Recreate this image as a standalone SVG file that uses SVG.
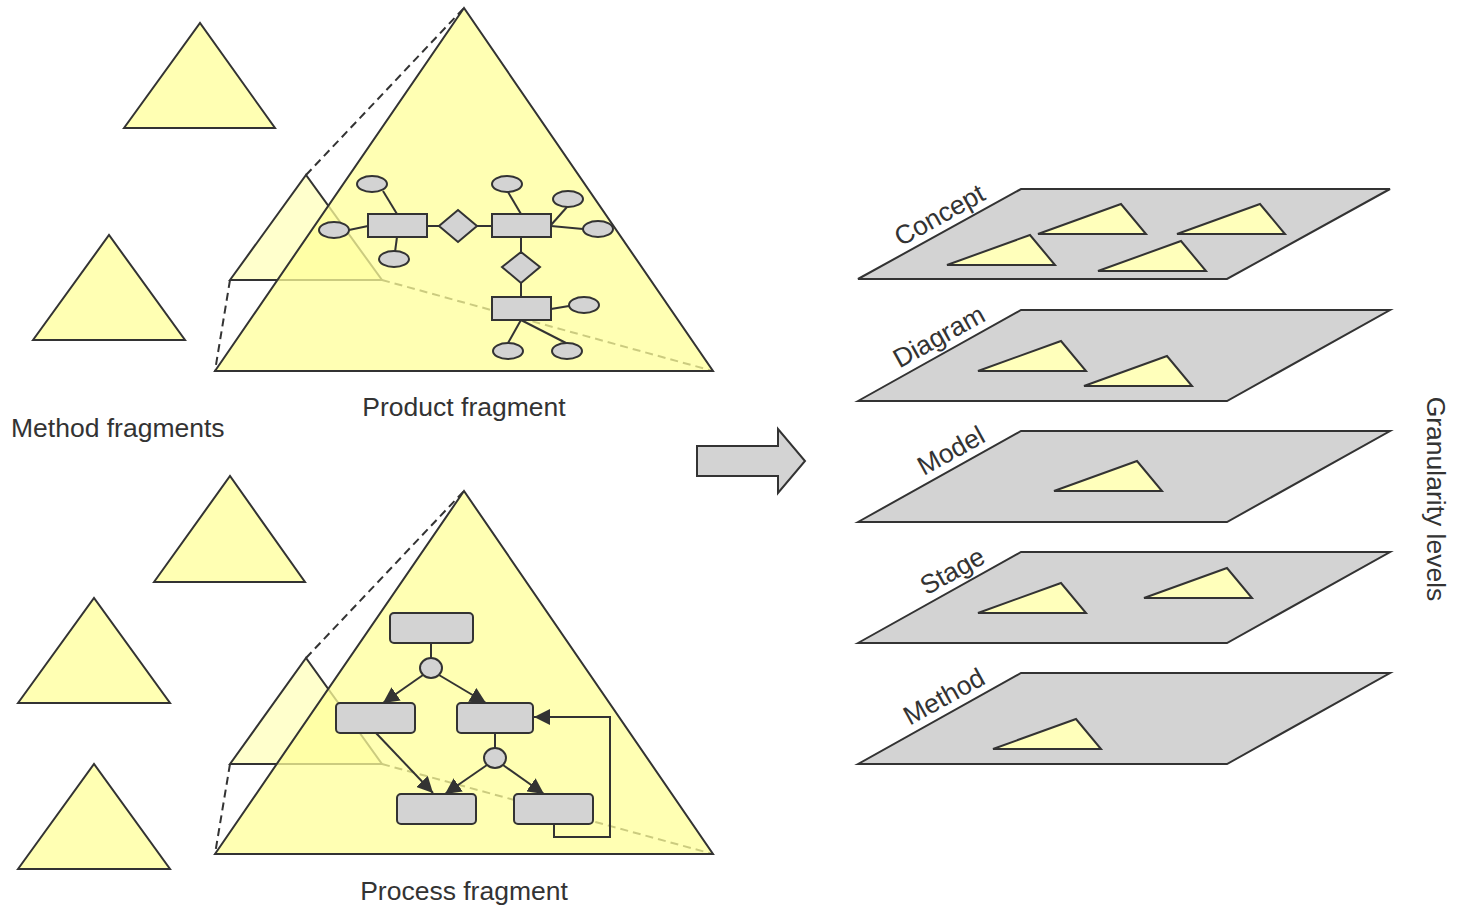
<svg xmlns="http://www.w3.org/2000/svg" xmlns:xlink="http://www.w3.org/1999/xlink" width="1458" height="907" viewBox="0 0 1458 907">
  <style>
    .tri { fill: #ffffb3; stroke: #333; stroke-width: 2; stroke-linejoin: miter; }
    .sub { fill: #ffff99; fill-opacity: 0.5; stroke: #333; stroke-width: 2; }
    .big { fill: #ffff99; fill-opacity: 0.75; stroke: #333; stroke-width: 2; }
    .dash { fill: none; stroke: #333; stroke-width: 2; stroke-dasharray: 8 5; }
    .box { fill: #d3d3d3; stroke: #333; stroke-width: 2; }
    .line { fill: none; stroke: #333; stroke-width: 2; }
    .arr { fill: none; stroke: #333; stroke-width: 2; marker-end: url(#head); }
    .plane { fill: #d3d3d3; stroke: #333; stroke-width: 2; }
    .flat { fill: #ffffbb; stroke: #333; stroke-width: 2; }
    .lbl { font-family: "Liberation Sans", Arial, sans-serif; font-size: 26.5px; fill: #333; }
  </style>
  <defs>
    <marker id="head" viewBox="0 0 10 10" refX="10" refY="5" markerWidth="16" markerHeight="16" markerUnits="userSpaceOnUse" orient="auto">
      <path d="M0,0 L10,5 L0,10 Z" fill="#333"/>
    </marker>
    <path id="flatTri" d="M0,0 L83,-30 L108,0 Z"/>
  </defs>

  <!-- loose method fragments -->
  <g id="fragment-1"><polygon class="tri" points="124,128 200,23 275,128"/></g>
  <g id="fragment-2"><polygon class="tri" points="33,340 109,235 185,340"/></g>
  <g id="fragment-3"><polygon class="tri" points="154,582 230,476 305,582"/></g>
  <g id="fragment-4"><polygon class="tri" points="18,703 94,598 170,703"/></g>
  <g id="fragment-5"><polygon class="tri" points="18,869 94,764 170,869"/></g>

  <!-- product fragment: small fragment projected into a zoomed pyramid -->
  <g id="product-fragment">
    <polygon class="sub" points="230,280 306,175 382,280"/>
    <g class="dash">
      <line x1="306" y1="175" x2="464" y2="8"/>
      <line x1="230" y1="280" x2="215" y2="371"/>
      <line x1="382" y1="280" x2="713" y2="371"/>
    </g>
    <polygon class="big" points="215,371 464,8 713,371"/>
  </g>

  <!-- process fragment: same construction, lower row -->
  <g id="process-fragment">
    <polygon class="sub" points="230,764 306,658 382,764"/>
    <g class="dash">
      <line x1="306" y1="658" x2="464" y2="491"/>
      <line x1="230" y1="764" x2="215" y2="854"/>
      <line x1="382" y1="764" x2="713" y2="854"/>
    </g>
    <polygon class="big" points="215,854 464,491 713,854"/>
  </g>

  <!-- connectors inside the fragments -->
  <g id="connectors">
    <!-- entity-relationship links -->
    <line class="line" x1="383" y1="191" x2="397" y2="214"/>
    <line class="line" x1="349" y1="230" x2="368" y2="226"/>
    <line class="line" x1="395" y1="252" x2="397" y2="237"/>
    <line class="line" x1="427" y1="226" x2="439" y2="226"/>
    <line class="line" x1="477" y1="226" x2="492" y2="226"/>
    <line class="line" x1="508" y1="192" x2="521" y2="214"/>
    <line class="line" x1="567" y1="207" x2="551" y2="225"/>
    <line class="line" x1="583" y1="229" x2="551" y2="226"/>
    <line class="line" x1="521" y1="237" x2="521" y2="252"/>
    <line class="line" x1="521" y1="283" x2="521" y2="297"/>
    <line class="line" x1="551" y1="309" x2="569" y2="306"/>
    <line class="line" x1="521" y1="320" x2="508" y2="343"/>
    <line class="line" x1="521" y1="320" x2="566" y2="343"/>
    <!-- process flow -->
    <line class="line" x1="431" y1="643" x2="431" y2="658"/>
    <line class="arr" x1="423" y1="675" x2="383" y2="703"/>
    <line class="arr" x1="439" y1="675" x2="486" y2="703"/>
    <line class="line" x1="495" y1="733" x2="495" y2="748"/>
    <line class="arr" x1="376" y1="733" x2="433" y2="793"/>
    <line class="arr" x1="487" y1="765" x2="445" y2="794"/>
    <line class="arr" x1="503" y1="765" x2="544" y2="794"/>
    <path class="arr" d="M554,824 V837 H610 V717 H534"/>
  </g>

  <!-- entity-relationship model -->
  <g id="er-model">
    <rect id="entity-1" class="box" x="368" y="214" width="59" height="23"/>
    <rect id="entity-2" class="box" x="492" y="214" width="59" height="23"/>
    <rect id="entity-3" class="box" x="492" y="297" width="59" height="23"/>
    <polygon id="relation-1" class="box" points="439,226 458,210 477,226 458,242"/>
    <polygon id="relation-2" class="box" points="502,267 521,252 540,267 521,283"/>
    <ellipse class="box" cx="372" cy="184" rx="15" ry="8"/>
    <ellipse class="box" cx="334" cy="230" rx="15" ry="8"/>
    <ellipse class="box" cx="394" cy="259" rx="15" ry="8"/>
    <ellipse class="box" cx="507" cy="184" rx="15" ry="8"/>
    <ellipse class="box" cx="568" cy="199" rx="15" ry="8"/>
    <ellipse class="box" cx="598" cy="229" rx="15" ry="8"/>
    <ellipse class="box" cx="584" cy="305" rx="15" ry="8"/>
    <ellipse class="box" cx="508" cy="351" rx="15" ry="8"/>
    <ellipse class="box" cx="567" cy="351" rx="15" ry="8"/>
  </g>

  <!-- process model -->
  <g id="process-model">
    <rect id="step-1" class="box" x="390" y="613" width="83" height="30" rx="4"/>
    <rect id="step-2" class="box" x="336" y="703" width="79" height="30" rx="4"/>
    <rect id="step-3" class="box" x="457" y="703" width="76" height="30" rx="4"/>
    <rect id="step-4" class="box" x="397" y="794" width="79" height="30" rx="4"/>
    <rect id="step-5" class="box" x="514" y="794" width="79" height="30" rx="4"/>
    <ellipse id="split-1" class="box" cx="431" cy="668" rx="11" ry="10"/>
    <ellipse id="split-2" class="box" cx="495" cy="758" rx="11" ry="10"/>
  </g>

  <g id="captions" class="lbl">
    <text x="11" y="437">Method fragments</text>
    <text x="464" y="416" text-anchor="middle">Product fragment</text>
    <text x="464" y="900" text-anchor="middle">Process fragment</text>
  </g>

  <!-- transition arrow -->
  <g id="transition">
    <path class="box" d="M697,446 L778,446 L778,429 L805,461 L778,493 L778,476 L697,476 Z"/>
  </g>

  <!-- granularity levels -->
  <g id="level-concept">
    <polygon class="plane" points="858,279 1021,189 1390,189 1227,279"/>
    <use class="flat" xlink:href="#flatTri" x="1038" y="234"/>
    <use class="flat" xlink:href="#flatTri" x="1177" y="234"/>
    <use class="flat" xlink:href="#flatTri" x="947" y="265"/>
    <use class="flat" xlink:href="#flatTri" x="1098" y="271"/>
    <text class="lbl" text-anchor="end" transform="translate(987,199) rotate(-29)">Concept</text>
  </g>
  <g id="level-diagram">
    <polygon class="plane" points="858,401 1021,310 1390,310 1227,401"/>
    <use class="flat" xlink:href="#flatTri" x="978" y="371"/>
    <use class="flat" xlink:href="#flatTri" x="1084" y="386"/>
    <text class="lbl" text-anchor="end" transform="translate(987,320) rotate(-29)">Diagram</text>
  </g>
  <g id="level-model">
    <polygon class="plane" points="858,522 1021,431 1390,431 1227,522"/>
    <use class="flat" xlink:href="#flatTri" x="1054" y="491"/>
    <text class="lbl" text-anchor="end" transform="translate(987,441) rotate(-29)">Model</text>
  </g>
  <g id="level-stage">
    <polygon class="plane" points="858,643 1021,552 1390,552 1227,643"/>
    <use class="flat" xlink:href="#flatTri" x="978" y="613"/>
    <use class="flat" xlink:href="#flatTri" x="1144" y="598"/>
    <text class="lbl" text-anchor="end" transform="translate(987,562) rotate(-29)">Stage</text>
  </g>
  <g id="level-method">
    <polygon class="plane" points="858,764 1021,673 1390,673 1227,764"/>
    <use class="flat" xlink:href="#flatTri" x="993" y="749"/>
    <text class="lbl" text-anchor="end" transform="translate(987,683) rotate(-29)">Method</text>
  </g>

  <text class="lbl" text-anchor="middle" transform="translate(1427,499) rotate(90)">Granularity levels</text>
</svg>
